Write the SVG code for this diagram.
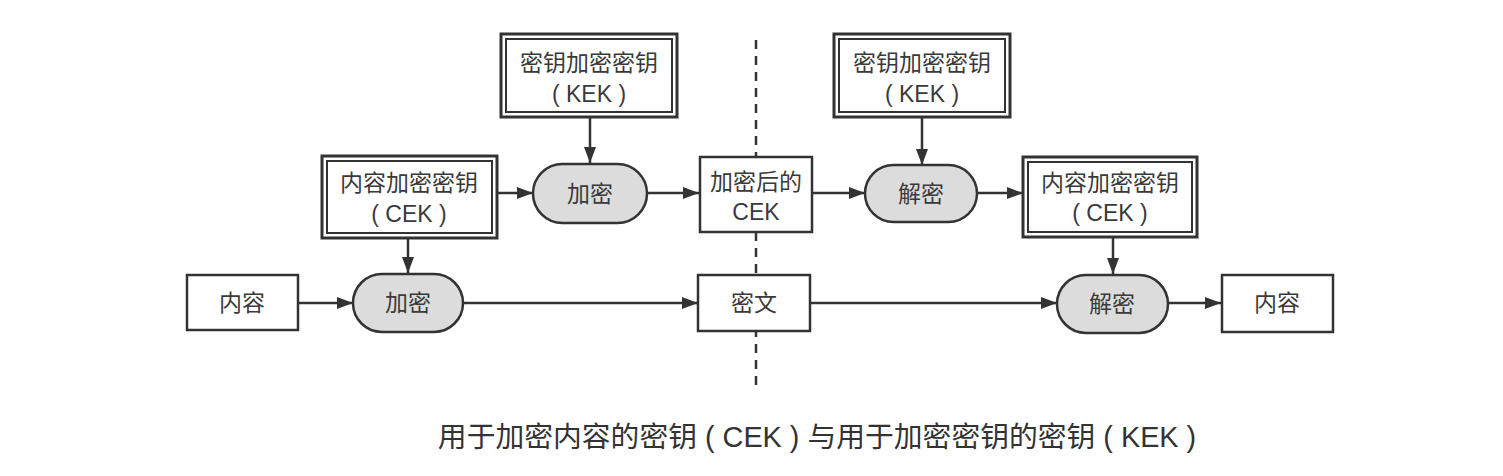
<svg xmlns="http://www.w3.org/2000/svg" width="1503" height="476" viewBox="0 0 1503 476">
<style>
.t{font-family:"Liberation Sans","Noto Sans CJK SC",sans-serif;font-size:23px;fill:#3a3a3a;text-anchor:middle;dominant-baseline:central}
.cap{font-family:"Liberation Sans","Noto Sans CJK SC",sans-serif;font-size:28.8px;fill:#333;text-anchor:middle;dominant-baseline:central}
.box{fill:#fff;stroke:#333;stroke-width:2.5}
.ob{fill:#fff;stroke:#333;stroke-width:3}
.ib{fill:none;stroke:#333;stroke-width:2}
.pill{fill:#dcdcdc;stroke:#333;stroke-width:2.5}
.c{stroke:#333;stroke-width:2.5;fill:none;marker-end:url(#ah)}
</style>
<defs>
<marker id="ah" viewBox="0 0 16 12" refX="16" refY="6" markerWidth="16" markerHeight="12" markerUnits="userSpaceOnUse" orient="auto">
<path d="M0,0 L16,6 L0,12 Z" fill="#333"/>
</marker>
</defs>
<rect width="1503" height="476" fill="#fff"/>
<line x1="756" y1="40" x2="756" y2="388" stroke="#333" stroke-width="2.5" stroke-dasharray="9,7"/>
<g id="connectors">
<line class="c" x1="590" y1="117" x2="590" y2="163"/>
<line class="c" x1="497" y1="193" x2="533" y2="193"/>
<line class="c" x1="647" y1="193" x2="699" y2="193"/>
<line class="c" x1="812" y1="193" x2="865" y2="193"/>
<line class="c" x1="922" y1="117" x2="922" y2="165"/>
<line class="c" x1="977" y1="193" x2="1023" y2="193"/>
<line class="c" x1="408" y1="238" x2="408" y2="273"/>
<line class="c" x1="298" y1="303" x2="353" y2="303"/>
<line class="c" x1="463" y1="303" x2="698" y2="303"/>
<line class="c" x1="810" y1="303" x2="1057" y2="303"/>
<line class="c" x1="1113" y1="237" x2="1113" y2="274"/>
<line class="c" x1="1168" y1="303" x2="1221" y2="303"/>
</g>
<g id="kek1">
<rect class="ob" x="501" y="34" width="176" height="83"/>
<rect class="ib" x="506" y="39" width="166" height="73"/>
<text class="t" x="589" y="63">密钥加密密钥</text>
<text class="t" x="589" y="94">( KEK )</text>
</g>
<g id="cek1">
<rect class="ob" x="322" y="156" width="175" height="82"/>
<rect class="ib" x="327" y="161" width="165" height="72"/>
<text class="t" x="409" y="183">内容加密密钥</text>
<text class="t" x="409" y="214">( CEK )</text>
</g>
<g id="enc1">
<rect class="pill" x="533" y="164" width="114" height="59" rx="29.5"/>
<text class="t" x="590" y="194">加密</text>
</g>
<g id="enccek">
<rect class="box" x="700" y="157" width="112" height="75"/>
<text class="t" x="756" y="182">加密后的</text>
<text class="t" x="756" y="212">CEK</text>
</g>
<g id="kek2">
<rect class="ob" x="834" y="34" width="176" height="83"/>
<rect class="ib" x="839" y="39" width="166" height="73"/>
<text class="t" x="922" y="63">密钥加密密钥</text>
<text class="t" x="922" y="94">( KEK )</text>
</g>
<g id="dec1">
<rect class="pill" x="865" y="165" width="112" height="57" rx="28.5"/>
<text class="t" x="921" y="194">解密</text>
</g>
<g id="cek2">
<rect class="ob" x="1023" y="157" width="174" height="80"/>
<rect class="ib" x="1028" y="162" width="164" height="70"/>
<text class="t" x="1110" y="183">内容加密密钥</text>
<text class="t" x="1110" y="213">( CEK )</text>
</g>
<g id="content1">
<rect class="box" x="187" y="275" width="111" height="55"/>
<text class="t" x="242" y="303">内容</text>
</g>
<g id="enc2">
<rect class="pill" x="353" y="274" width="110" height="58" rx="29"/>
<text class="t" x="408" y="303">加密</text>
</g>
<g id="cipher">
<rect class="box" x="698" y="275" width="112" height="56"/>
<text class="t" x="754" y="303">密文</text>
</g>
<g id="dec2">
<rect class="pill" x="1057" y="275" width="111" height="58" rx="29"/>
<text class="t" x="1112" y="304">解密</text>
</g>
<g id="content2">
<rect class="box" x="1222" y="275" width="111" height="57"/>
<text class="t" x="1277" y="303">内容</text>
</g>
<text class="cap" x="817" y="437">用于加密内容的密钥 ( CEK ) 与用于加密密钥的密钥 ( KEK )</text>
</svg>
